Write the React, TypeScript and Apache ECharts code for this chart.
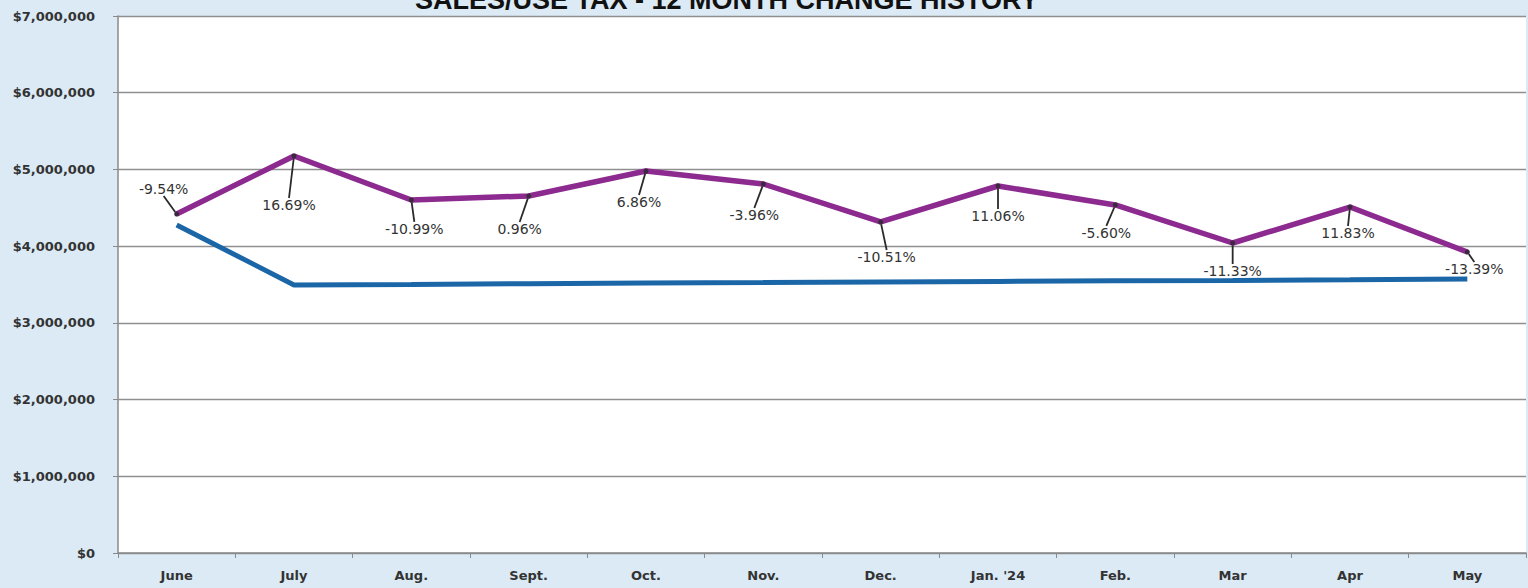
import React, { useEffect, useRef } from "react";
import * as echarts from "echarts";

const months = ["June", "July", "Aug.", "Sept.", "Oct.", "Nov.", "Dec.", "Jan. '24", "Feb.", "Mar", "Apr", "May"];
const currentYear = [4419000, 5175000, 4602000, 4654000, 4980000, 4810000, 4315000, 4784000, 4537000, 4041000, 4510000, 3924000];
const budget = [4276000, 3494000, 3500000, 3510000, 3520000, 3525000, 3532000, 3540000, 3548000, 3553000, 3562000, 3572000];
const changeLabels = ["-9.54%", "16.69%", "-10.99%", "0.96%", "6.86%", "-3.96%", "-10.51%", "11.06%", "-5.60%", "-11.33%", "11.83%", "-13.39%"];
const yTicks = [0, 1000000, 2000000, 3000000, 4000000, 5000000, 6000000, 7000000];

// label placement offsets (layout only)
const labelOffsets: [number, number][] = [
  [-13, -25], [-5, 49], [3, 29], [-9, 33], [-7, 31], [-9, 31],
  [6, 35], [0, 30], [-9, 28], [0, 28], [-2, 26], [7, 17],
];

export default function App() {
  const ref = useRef<HTMLDivElement>(null);
  useEffect(() => {
    if (!ref.current) return;
    const chart = echarts.init(ref.current, undefined, { renderer: "svg" });
    const fmt = (v: number) => "$" + v.toLocaleString("en-US");
    chart.setOption({
      animation: false,
      backgroundColor: "#dbeaf5",
      graphic: [
        {
          type: "text",
          left: 415,
          top: -14,
          style: {
            text: "SALES/USE TAX - 12 MONTH CHANGE HISTORY",
            font: "bold 27px 'Liberation Sans', Arial, sans-serif",
            fill: "#111",
          },
        },
      ],
      grid: {
        left: 118,
        right: 2,
        top: 16,
        bottom: 35,
        show: true,
        backgroundColor: "#ffffff",
        borderWidth: 0,
      },
      xAxis: {
        type: "category",
        data: months,
        boundaryGap: true,
        axisLine: { lineStyle: { color: "#8a8a8a", width: 1.5 } },
        axisTick: { show: true, length: 5, lineStyle: { color: "#8a8a8a" } },
        axisLabel: {
          color: "#333",
          fontFamily: "'DejaVu Sans', sans-serif",
          fontWeight: "bold",
          fontSize: 13,
          margin: 16,
        },
      },
      yAxis: {
        type: "value",
        min: 0,
        max: 7000000,
        interval: 1000000,
        axisLine: { show: true, lineStyle: { color: "#8a8a8a", width: 1.5 } },
        axisTick: { show: true, length: 5, lineStyle: { color: "#8a8a8a" } },
        splitLine: { lineStyle: { color: "#8f8f8f", width: 1.3 } },
        axisLabel: {
          color: "#333",
          fontFamily: "'DejaVu Sans', sans-serif",
          fontWeight: "bold",
          fontSize: 13,
          margin: 23,
          formatter: (v: number) => (yTicks.includes(v) ? fmt(v) : ""),
        },
      },
      series: [
        {
          type: "line",
          data: budget,
          showSymbol: false,
          lineStyle: { color: "#1b66a6", width: 5 },
          itemStyle: { color: "#1b66a6" },
          z: 2,
        },
        {
          type: "line",
          data: currentYear,
          symbol: "circle",
          symbolSize: 5,
          lineStyle: { color: "#8c2a90", width: 5.5 },
          itemStyle: { color: "#3b2a3d" },
          z: 3,
          label: {
            show: true,
            position: "inside",
            formatter: (p: any) => changeLabels[p.dataIndex],
            color: "#333",
            fontFamily: "'DejaVu Sans', sans-serif",
            fontSize: 14,
          },
          labelLine: { show: true, lineStyle: { color: "#2a2a2a", width: 1.8 } },
          labelLayout: (p: any) => ({
            dx: labelOffsets[p.dataIndex][0],
            dy: labelOffsets[p.dataIndex][1],
          }),
        },
      ],
    });
    return () => chart.dispose();
  }, []);
  return (
    <div
      ref={ref}
      style={{ position: "fixed", left: 0, top: 0, width: 1528, height: 588 }}
    />
  );
}
